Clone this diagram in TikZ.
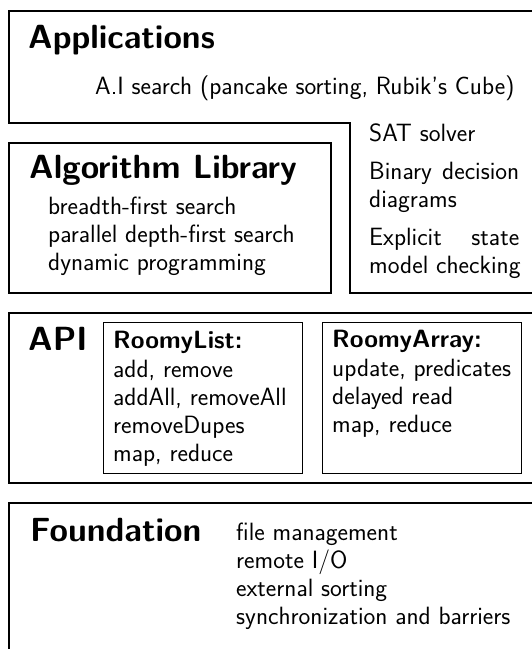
\documentclass[tikz,border=0pt]{standalone}
\usepackage{fontspec}
\begin{document}
\begin{tikzpicture}[x=1pt,y=-1pt,
  thickbox/.style={line width=2.2pt, line join=miter},
  thinbox/.style={line width=0.9pt},
  ttl/.style={font=\sffamily\bfseries\fontsize{33.5}{38}\selectfont, inner sep=0pt, anchor=base west},
  body/.style={font=\sffamily\fontsize{25}{27.8}\selectfont, inner sep=0pt, anchor=base west, align=left},
]
\useasboundingbox (0,0) rectangle (532,649);
\clip (0,0) rectangle (532,649);
% boxes
\draw[thickbox] (545,11) -- (9,11) -- (9,123) -- (350,123) -- (350,293) -- (545,293);
\draw[thickbox] (9,143) rectangle (331,293);
\draw[thickbox] (545,313) -- (9,313) -- (9,483) -- (545,483);
\draw[thinbox] (103,322) rectangle (302,473);
\draw[thinbox] (322,322) rectangle (521,473);
\draw[thickbox] (545,503) -- (9,503) -- (9,660);
% texts (multi-line nodes are placed by the baseline of their last line)
\node[ttl] (app) at (28,48) {Applications};
\node[body] (ai) at (95,94) {A.I search (pancake sorting, Rubik's Cube)};
\node[ttl] (alg) at (29,178) {Algorithm Library};
\node[body] (algl) at (48,270) {breadth-first search\\parallel depth-first search\\dynamic programming};
\node[body] (sat) at (369,273) {SAT solver\\[10pt]\makebox[150pt][l]{Binary\hfill decision}\\diagrams\\[10pt]\makebox[150pt][l]{Explicit\hfill state}\\model checking};
\node[ttl] (api) at (28,350) {API};
\node[body] (rl) at (113,461) {\textbf{RoomyList:}\\[1.5pt]add, remove\\addAll, removeAll\\removeDupes\\map, reduce};
\node[body] (ra) at (332,432) {\textbf{RoomyArray:}\\[1.5pt]update, predicates\\delayed read\\map, reduce};
\node[ttl] (fd) at (30,541) {Foundation};
\node[body] (fdl) at (236,624) {file management\\remote I/O\\external sorting\\synchronization and barriers};
\end{tikzpicture}
\end{document}
